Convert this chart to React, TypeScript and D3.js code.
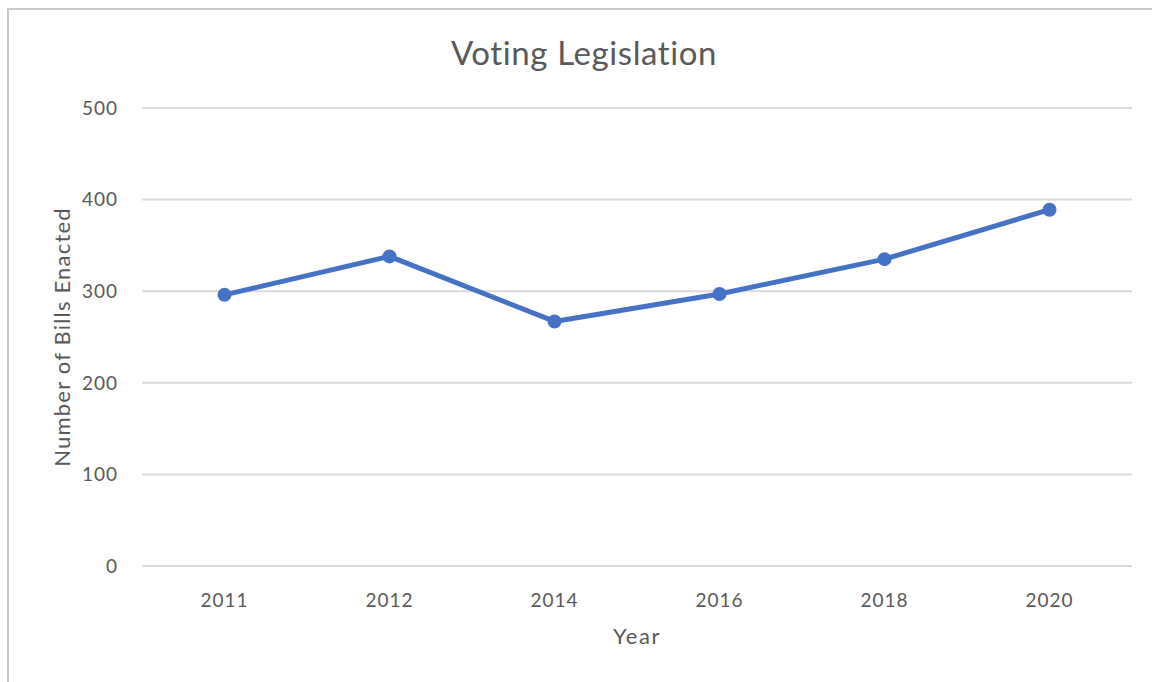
import React from "react";
import * as d3 from "d3";

const years = ["2011", "2012", "2014", "2016", "2018", "2020"];
const billsEnacted = [296, 338, 267, 297, 335, 389];
const yTicks = [0, 100, 200, 300, 400, 500];

const W = 1152;
const H = 682;
const plotLeft = 142;
const plotRight = 1132;
const plotTop = 108;
const plotBottom = 566;
const FONT = "Lato, 'Open Sans', sans-serif";
const TEXT = "#595959";

export default function App() {
  const x = d3.scalePoint<string>().domain(years).range([plotLeft, plotRight]).padding(0.5);
  const y = d3.scaleLinear().domain([0, 500]).range([plotBottom, plotTop]);
  const pts = years.map((yr, i) => [x(yr) as number, y(billsEnacted[i])] as [number, number]);
  const line = d3.line()(pts) || "";

  return (
    <svg width={W} height={H} style={{ position: "fixed", left: 0, top: 0, background: "#fff" }}>
      <rect x={8} y={9} width={W + 20} height={H + 20} fill="#fff" stroke="#c8c8c8" strokeWidth={2} />
      <text x={584} y={65} textAnchor="middle" fontFamily={FONT} fontSize={33} letterSpacing={0.6} fill={TEXT}>
        Voting Legislation
      </text>
      {yTicks.map((t) => (
        <g key={t}>
          <line x1={plotLeft} x2={plotRight} y1={y(t)} y2={y(t)} stroke="#d9d9d9" strokeWidth={2} />
          <text x={118} y={y(t)} dy="0.36em" textAnchor="end" fontFamily={FONT} fontSize={19} letterSpacing={1} fill={TEXT}>
            {t}
          </text>
        </g>
      ))}
      {years.map((yr) => (
        <text key={yr} x={x(yr) as number} y={607} textAnchor="middle" fontFamily={FONT} fontSize={19} letterSpacing={1} fill={TEXT}>
          {yr}
        </text>
      ))}
      <text x={637} y={644} textAnchor="middle" fontFamily={FONT} fontSize={22} letterSpacing={1.5} fill={TEXT}>
        Year
      </text>
      <text
        transform={`translate(70,337) rotate(-90)`}
        textAnchor="middle"
        fontFamily={FONT}
        fontSize={22}
        letterSpacing={1.2}
        fill={TEXT}
      >
        Number of Bills Enacted
      </text>
      <path d={line} fill="none" stroke="#4472C4" strokeWidth={5} strokeLinejoin="round" />
      {pts.map((p, i) => (
        <circle key={i} cx={p[0]} cy={p[1]} r={7} fill="#4472C4" />
      ))}
    </svg>
  );
}
